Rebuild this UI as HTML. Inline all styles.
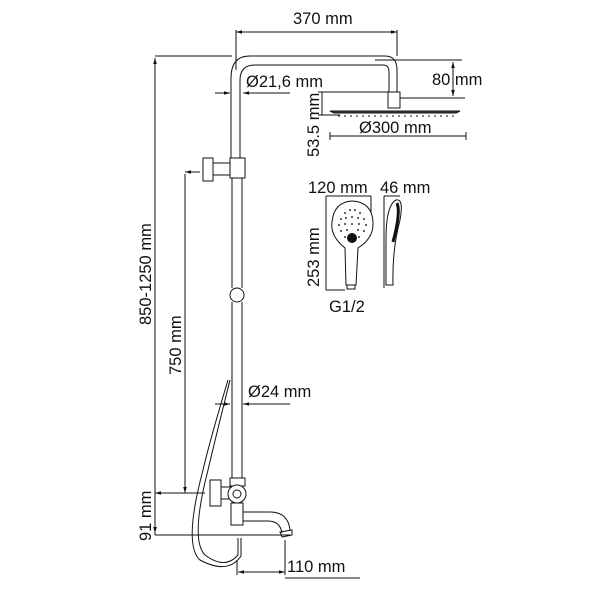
<!DOCTYPE html>
<html><head><style>
body{margin:0;background:#fff}
svg text{font-family:"Liberation Sans",sans-serif;font-size:16.5px;fill:#111}
</style></head><body>
<svg width="600" height="600" viewBox="0 0 600 600" xmlns="http://www.w3.org/2000/svg">
<defs>
<marker id="a" viewBox="0 0 10 10" refX="10" refY="5" markerWidth="8" markerHeight="6" orient="auto-start-reverse"><path d="M0,2 L10,5 L0,8z" fill="#111"/></marker>
</defs>
<g fill="none" stroke="#111" stroke-width="1">
<path d="M231,158 V78 Q231,56 250,56 H385 Q397,56 397,70 V92"/>
<path d="M240,158 V80 Q240,65 255,65 H383 Q389,65 389,72 V92"/>
<rect x="388" y="92" width="12" height="16" fill="#fff"/>
<path d="M330,111 H460 L456,113 H334z" fill="#444"/>
<path d="M338,116 H454" stroke-dasharray="2 4"/>
<rect x="230" y="158" width="15" height="20" fill="#fff"/>
<path d="M232,178 V288 M242,178 V288 M232,302 V485 M242,302 V485"/>
<circle cx="237" cy="295" r="7" fill="#fff"/>
<rect x="203" y="158" width="10" height="23" fill="#fff"/>
<rect x="213" y="163" width="17" height="12" fill="#fff"/>
<rect x="210" y="480" width="11" height="26" fill="#fff"/>
<rect x="221" y="487" width="10" height="12" fill="#fff"/>
<rect x="230" y="478" width="15" height="8" fill="#fff"/>
<circle cx="237" cy="494" r="9" fill="#fff"/>
<circle cx="237" cy="494" r="4"/>
<rect x="231" y="503" width="12" height="22" fill="#fff"/>
<path d="M243,512 H270 Q288,512 290,530 M243,521 H268 Q280,521 282,533"/>
<path d="M280,532 L292,530 L292,535 L282,537z"/>
<path d="M230,380 Q215,440 208,470 Q190,540 205,555 Q225,570 238,555 L238,538"/>
<path d="M228,380 Q210,440 203,470 Q183,545 200,560 Q228,575 241,556 L241,538"/>
<path d="M236,32 H397" marker-start="url(#a)" marker-end="url(#a)"/>
<path d="M236,30 V70 M397,30 V56"/>
<path d="M155,56 H232"/>
<path d="M155,58 V535" marker-start="url(#a)"/>
<path d="M185,172 H200 M185,174 V493" marker-start="url(#a)" marker-end="url(#a)"/>
<path d="M155,493 H205 M155,495 V533" marker-start="url(#a)" marker-end="url(#a)"/>
<path d="M155,535 H290"/>
<path d="M215,93 H230" marker-end="url(#a)"/>
<path d="M290,93 H243" marker-end="url(#a)"/>
<path d="M375,60 H462 M400,98 H465"/>
<path d="M453,62 V96" marker-start="url(#a)" marker-end="url(#a)"/>
<path d="M322,92 V115 M318,92 H390 M318,115 H340"/>
<path d="M330,136 H466 M330,132 V140 M466,132 V140"/>
<path d="M215,404 H230" marker-end="url(#a)"/>
<path d="M290,404 H243" marker-end="url(#a)"/>
<path d="M285,540 V575 M237,560 V575"/>
<path d="M238,572 H285" marker-start="url(#a)" marker-end="url(#a)"/>
<path d="M285,578 H360"/>
<path d="M326,196 H371 M326,196 V290 M326,290 H345 M371,196 V212"/>
<path d="M345,248 Q330,236 332,222 Q334,202 352,201 Q372,202 373,222 Q374,238 358,248 L356,285 H346z"/>
<rect x="347" y="285" width="8" height="4"/>
<circle cx="352" cy="238" r="4.5" fill="#111"/>
<path d="M384,196 H400 M384,196 V288 M386,285 H393 Q392,250 400,220 Q404,198 396,200 Q386,205 386,240z"/>
<path d="M397,203 Q401,212 393,242" stroke-width="3"/>
</g>
<g fill="#555"><circle cx="345" cy="213" r="1.1"/><circle cx="350" cy="210" r="1.1"/><circle cx="355" cy="210" r="1.1"/><circle cx="360" cy="213" r="1.1"/><circle cx="341" cy="219" r="1.1"/><circle cx="346" cy="218" r="1.1"/><circle cx="352" cy="217" r="1.1"/><circle cx="358" cy="218" r="1.1"/><circle cx="364" cy="219" r="1.1"/><circle cx="339" cy="225" r="1.1"/><circle cx="345" cy="224" r="1.1"/><circle cx="352" cy="224" r="1.1"/><circle cx="359" cy="224" r="1.1"/><circle cx="366" cy="225" r="1.1"/><circle cx="341" cy="231" r="1.1"/><circle cx="347" cy="230" r="1.1"/><circle cx="358" cy="230" r="1.1"/><circle cx="364" cy="231" r="1.1"/><circle cx="359" cy="237" r="1.1"/><circle cx="345" cy="237" r="1.1"/></g>
<text x="293" y="24">370 mm</text>
<text x="246" y="87">Ø21,6 mm</text>
<text x="432" y="85">80 mm</text>
<text x="359" y="133">Ø300 mm</text>
<text transform="translate(319,157) rotate(-90)">53.5 mm</text>
<text x="308" y="193">120 mm</text>
<text x="380" y="193">46 mm</text>
<text transform="translate(319,287) rotate(-90)">253 mm</text>
<text x="329" y="312">G1/2</text>
<text transform="translate(151,325) rotate(-90)">850-1250 mm</text>
<text transform="translate(181,375) rotate(-90)">750 mm</text>
<text x="248" y="397">Ø24 mm</text>
<text transform="translate(151,541) rotate(-90)">91 mm</text>
<text x="287" y="572">110 mm</text>
</svg>
</body></html>
